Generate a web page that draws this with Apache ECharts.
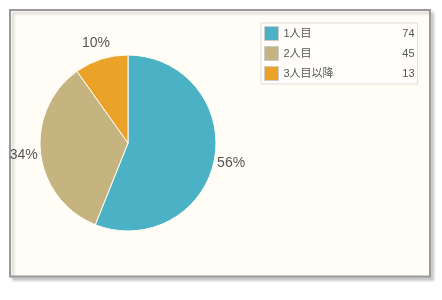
<!DOCTYPE html>
<html><head><meta charset="utf-8">
<script src="https://cdn.jsdelivr.net/npm/echarts@6/dist/echarts.min.js"></script>
<style>html,body{margin:0;padding:0;background:#fff;}#c{width:442px;height:300px;}</style>
</head><body><div id="c"></div>
<script>
const categories = ['1人目', '2人目', '3人目以降'];
const values = [74, 45, 13];
const colors = ['#4bb2c5', '#c5b47f', '#eaa228'];

const total = values.reduce((a, b) => a + b, 0);
const data = categories.map((n, i) => ({ name: n, value: values[i] }));
const valueOf = {};
categories.forEach((n, i) => valueOf[n] = values[i]);
const FONT = '"Liberation Sans", "Noto Sans CJK JP", sans-serif';

const chart = echarts.init(document.getElementById('c'), null, { renderer: 'canvas' });
chart.setOption({
  animation: false,
  backgroundColor: '#ffffff',
  color: colors,
  graphic: [{
    type: 'rect', z: -10,
    shape: { x: 10, y: 10, width: 420, height: 266.5 },
    style: { fill: '#fffdf6', stroke: '#999', lineWidth: 2,
      shadowBlur: 3, shadowOffsetX: 3, shadowOffsetY: 3, shadowColor: 'rgba(0,0,0,0.18)' }
  }],
  legend: {
    orient: 'vertical', left: 261, top: 23,
    padding: 3, itemGap: 5, itemWidth: 14, itemHeight: 14,
    icon: 'rect',
    backgroundColor: '#fffefb', borderColor: '#ddd', borderWidth: 1,
    itemStyle: { borderColor: '#ccc', borderWidth: 1 },
    data: categories,
    formatter: n => '{n|' + n + '}{v|' + valueOf[n] + '}',
    textStyle: {
      fontFamily: FONT, fontSize: 11, color: '#555',
      rich: {
        n: { width: 100, fontFamily: FONT, fontSize: 11, color: '#555' },
        v: { width: 31, align: 'right', fontFamily: FONT, fontSize: 11, color: '#555' }
      }
    }
  },
  series: [{
    type: 'pie', center: [128, 143], radius: 88, startAngle: 90, clockwise: true,
    data: data,
    itemStyle: { borderColor: '#fffdf6', borderWidth: 1 },
    label: { show: false }, labelLine: { show: false },
    emphasis: { disabled: true }
  }, {
    type: 'pie', center: [128, 143], radius: [98, 106], startAngle: 90, clockwise: true,
    silent: true, legendHoverLink: false,
    data: data,
    itemStyle: { color: 'rgba(0,0,0,0)', borderWidth: 0 },
    label: {
      show: true, position: 'inside', fontFamily: FONT, fontSize: 14, color: '#555',
      formatter: p => Math.round(p.value / total * 100) + '%'
    },
    labelLine: { show: false },
    emphasis: { disabled: true }
  }]
});
</script></body></html>
